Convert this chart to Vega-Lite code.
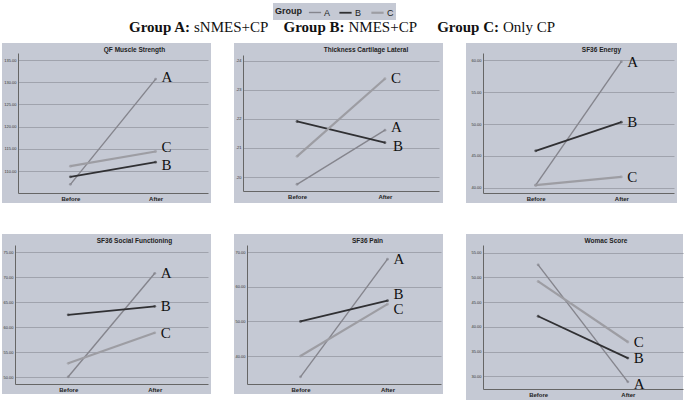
{
  "$schema": "https://vega.github.io/schema/vega-lite/v6.json",
  "padding": {"left": 2, "top": 0, "right": 0, "bottom": 0},
  "background": "white",
  "data": {"values": [
    {"p": "QF", "g": "A", "t": "Before", "v": 107.0},
    {"p": "QF", "g": "A", "t": "After", "v": 130.7},
    {"p": "QF", "g": "B", "t": "Before", "v": 108.7},
    {"p": "QF", "g": "B", "t": "After", "v": 112.0},
    {"p": "QF", "g": "C", "t": "Before", "v": 111.1},
    {"p": "QF", "g": "C", "t": "After", "v": 114.4},
    {"p": "TH", "g": "A", "t": "Before", "v": 0.1975},
    {"p": "TH", "g": "A", "t": "After", "v": 0.2161},
    {"p": "TH", "g": "B", "t": "Before", "v": 0.2191},
    {"p": "TH", "g": "B", "t": "After", "v": 0.2118},
    {"p": "TH", "g": "C", "t": "Before", "v": 0.2071},
    {"p": "TH", "g": "C", "t": "After", "v": 0.2338},
    {"p": "EN", "g": "A", "t": "Before", "v": 40.4},
    {"p": "EN", "g": "A", "t": "After", "v": 59.8},
    {"p": "EN", "g": "B", "t": "Before", "v": 45.8},
    {"p": "EN", "g": "B", "t": "After", "v": 50.3},
    {"p": "EN", "g": "C", "t": "Before", "v": 40.4},
    {"p": "EN", "g": "C", "t": "After", "v": 41.7},
    {"p": "SO", "g": "A", "t": "Before", "v": 50.1},
    {"p": "SO", "g": "A", "t": "After", "v": 70.8},
    {"p": "SO", "g": "B", "t": "Before", "v": 62.5},
    {"p": "SO", "g": "B", "t": "After", "v": 64.2},
    {"p": "SO", "g": "C", "t": "Before", "v": 52.8},
    {"p": "SO", "g": "C", "t": "After", "v": 58.9},
    {"p": "PA", "g": "A", "t": "Before", "v": 34.0},
    {"p": "PA", "g": "A", "t": "After", "v": 68.0},
    {"p": "PA", "g": "B", "t": "Before", "v": 50.0},
    {"p": "PA", "g": "B", "t": "After", "v": 56.0},
    {"p": "PA", "g": "C", "t": "Before", "v": 40.0},
    {"p": "PA", "g": "C", "t": "After", "v": 55.0},
    {"p": "WO", "g": "A", "t": "Before", "v": 52.55},
    {"p": "WO", "g": "A", "t": "After", "v": 28.9},
    {"p": "WO", "g": "B", "t": "Before", "v": 42.15},
    {"p": "WO", "g": "B", "t": "After", "v": 33.7},
    {"p": "WO", "g": "C", "t": "Before", "v": 49.2},
    {"p": "WO", "g": "C", "t": "After", "v": 36.95}
  ]},
  "vconcat": [
    {
      "width": 683, "height": 36,
      "data": {"values": [
        {"k": "A", "b": "Group A:", "n": "sNMES+CP"},
        {"k": "B", "b": "Group B:", "n": "NMES+CP"},
        {"k": "C", "b": "Group C:", "n": "Only CP"}
      ]},
      "view": {"stroke": null, "fill": null},
      "encoding": {"x": {"field": "k", "type": "nominal", "scale": {"type": "point", "range": [189, 498], "padding": 0}, "axis": null}},
      "layer": [
        {"mark": {"type": "text", "align": "right", "baseline": "alphabetic", "dx": -1, "dy": 14, "font": "Liberation Serif", "fontSize": 15, "fontWeight": "bold", "color": "#111"}, "encoding": {"text": {"field": "b"}}},
        {"mark": {"type": "text", "align": "left", "baseline": "alphabetic", "dx": 3, "dy": 14, "font": "Liberation Serif", "fontSize": 15, "color": "#111"}, "encoding": {"text": {"field": "n"}}}
      ]
    },
    {
      "vconcat": [
        {
          "hconcat": [
            {
              "width": 209, "height": 160,
              "view": {"fill": "#c5c9d4", "stroke": null},
              "title": {"text": "QF Muscle Strength", "dx": 28, "offset": -10},
              "transform": [{"filter": "datum.p == 'QF'"}],
              "encoding": {
                "x": {"field": "t", "type": "nominal", "sort": ["Before", "After"], "scale": {"type": "point", "range": [16, 206], "padding": 0.615}, "axis": {"title": null, "offset": -10, "labelAngle": 0}},
                "y": {"field": "v", "type": "quantitative", "scale": {"domain": [105.05, 136.58], "range": [150, 10], "nice": false, "zero": false}, "axis": {"title": null, "offset": -16, "values": [110, 115, 120, 125, 130, 135], "format": ".2f"}}
              },
              "layer": [
                {"mark": {"type": "line"}, "encoding": {
                  "color": {"field": "g", "type": "nominal", "scale": {"domain": ["A", "B", "C"], "range": ["#85858d", "#303033", "#9d9da3"]}, "legend": {"title": "Group", "orient": "none", "legendX": 271, "legendY": 3, "direction": "horizontal", "titleOrient": "left", "symbolType": "stroke", "symbolSize": 150, "columnPadding": 4}},
                  "strokeWidth": {"field": "g", "type": "nominal", "scale": {"domain": ["A", "B", "C"], "range": [1.4, 2.2, 1.4]}, "legend": {"title": "Group", "orient": "none", "legendX": 271, "legendY": 3, "direction": "horizontal", "titleOrient": "left", "symbolType": "stroke", "symbolSize": 150, "columnPadding": 4}}
                }},
                {"mark": {"type": "point", "filled": true, "size": 8}, "encoding": {"color": {"field": "g", "type": "nominal", "legend": null}}},
                {"transform": [{"filter": "datum.t == 'After'"}], "mark": {"type": "text", "align": "left", "baseline": "middle", "dx": 6, "dy": {"expr": "datum.g == 'C' ? -4 : datum.g == 'B' ? 3 : -2"}, "font": "Liberation Serif", "fontSize": 15, "color": "#111"}, "encoding": {"text": {"field": "g"}}}
              ]
            },
            {
              "width": 209, "height": 160,
              "view": {"fill": "#c5c9d4", "stroke": null},
              "title": {"text": "Thickness Cartilage Lateral", "dx": 27.5, "offset": -10},
              "transform": [{"filter": "datum.p == 'TH'"}],
              "encoding": {
                "x": {"field": "t", "type": "nominal", "sort": ["Before", "After"], "scale": {"type": "point", "range": [9, 205], "padding": 0.615}, "axis": {"title": null, "offset": -12, "labelAngle": 0}},
                "y": {"field": "v", "type": "quantitative", "scale": {"domain": [0.19519, 0.24196], "range": [148, 12], "nice": false, "zero": false}, "axis": {"title": null, "offset": -9, "values": [0.20, 0.21, 0.22, 0.23, 0.24], "labelExpr": "replace(format(datum.value, '.2f'), '0.', '.')"}}
              },
              "layer": [
                {"mark": {"type": "line"}, "encoding": {
                  "color": {"field": "g", "type": "nominal", "scale": {"domain": ["A", "B", "C"], "range": ["#85858d", "#303033", "#9d9da3"]}, "legend": {"title": "Group", "orient": "none", "legendX": 271, "legendY": 3, "direction": "horizontal", "titleOrient": "left", "symbolType": "stroke", "symbolSize": 150, "columnPadding": 4}},
                  "strokeWidth": {"field": "g", "type": "nominal", "scale": {"domain": ["A", "B", "C"], "range": [1.4, 2.2, 1.4]}, "legend": {"title": "Group", "orient": "none", "legendX": 271, "legendY": 3, "direction": "horizontal", "titleOrient": "left", "symbolType": "stroke", "symbolSize": 150, "columnPadding": 4}}
                }},
                {"mark": {"type": "point", "filled": true, "size": 8}, "encoding": {"color": {"field": "g", "type": "nominal", "legend": null}}},
                {"transform": [{"filter": "datum.t == 'After'"}], "mark": {"type": "text", "align": "left", "baseline": "middle", "dx": {"expr": "datum.g == 'B' ? 8 : 6"}, "dy": {"expr": "datum.g == 'A' ? -3 : datum.g == 'B' ? 3 : -1"}, "font": "Liberation Serif", "fontSize": 15, "color": "#111"}, "encoding": {"text": {"field": "g"}}}
              ]
            },
            {
              "width": 211, "height": 160,
              "view": {"fill": "#c5c9d4", "stroke": null},
              "title": {"text": "SF36 Energy", "dx": 30, "offset": -10},
              "transform": [{"filter": "datum.p == 'EN'"}],
              "encoding": {
                "x": {"field": "t", "type": "nominal", "sort": ["Before", "After"], "scale": {"type": "point", "range": [17, 208], "padding": 0.615}, "axis": {"title": null, "offset": -10, "labelAngle": 0}},
                "y": {"field": "v", "type": "quantitative", "scale": {"domain": [39.17, 61.16], "range": [150, 10], "nice": false, "zero": false}, "axis": {"title": null, "offset": -17, "values": [40, 45, 50, 55, 60], "format": ".2f"}}
              },
              "layer": [
                {"mark": {"type": "line"}, "encoding": {
                  "color": {"field": "g", "type": "nominal", "scale": {"domain": ["A", "B", "C"], "range": ["#85858d", "#303033", "#9d9da3"]}, "legend": {"title": "Group", "orient": "none", "legendX": 271, "legendY": 3, "direction": "horizontal", "titleOrient": "left", "symbolType": "stroke", "symbolSize": 150, "columnPadding": 4}},
                  "strokeWidth": {"field": "g", "type": "nominal", "scale": {"domain": ["A", "B", "C"], "range": [1.4, 2.2, 1.4]}, "legend": {"title": "Group", "orient": "none", "legendX": 271, "legendY": 3, "direction": "horizontal", "titleOrient": "left", "symbolType": "stroke", "symbolSize": 150, "columnPadding": 4}}
                }},
                {"mark": {"type": "point", "filled": true, "size": 8}, "encoding": {"color": {"field": "g", "type": "nominal", "legend": null}}},
                {"transform": [{"filter": "datum.t == 'After'"}], "mark": {"type": "text", "align": "left", "baseline": "middle", "dx": 6, "font": "Liberation Serif", "fontSize": 15, "color": "#111"}, "encoding": {"text": {"field": "g"}}}
              ]
            }
          ],
          "spacing": 23
        },
        {
          "hconcat": [
            {
              "width": 209, "height": 160,
              "view": {"fill": "#c5c9d4", "stroke": null},
              "title": {"text": "SF36 Social Functioning", "dx": 28, "offset": -10},
              "transform": [{"filter": "datum.p == 'SO'"}],
              "encoding": {
                "x": {"field": "t", "type": "nominal", "sort": ["Before", "After"], "scale": {"type": "point", "range": [13, 206], "padding": 0.615}, "axis": {"title": null, "offset": -10, "labelAngle": 0}},
                "y": {"field": "v", "type": "quantitative", "scale": {"domain": [48.66, 76.46], "range": [150, 11], "nice": false, "zero": false}, "axis": {"title": null, "offset": -13, "values": [50, 55, 60, 65, 70, 75], "format": ".2f"}}
              },
              "layer": [
                {"mark": {"type": "line"}, "encoding": {
                  "color": {"field": "g", "type": "nominal", "scale": {"domain": ["A", "B", "C"], "range": ["#85858d", "#303033", "#9d9da3"]}, "legend": {"title": "Group", "orient": "none", "legendX": 271, "legendY": 3, "direction": "horizontal", "titleOrient": "left", "symbolType": "stroke", "symbolSize": 150, "columnPadding": 4}},
                  "strokeWidth": {"field": "g", "type": "nominal", "scale": {"domain": ["A", "B", "C"], "range": [1.4, 2.2, 1.4]}, "legend": {"title": "Group", "orient": "none", "legendX": 271, "legendY": 3, "direction": "horizontal", "titleOrient": "left", "symbolType": "stroke", "symbolSize": 150, "columnPadding": 4}}
                }},
                {"mark": {"type": "point", "filled": true, "size": 8}, "encoding": {"color": {"field": "g", "type": "nominal", "legend": null}}},
                {"transform": [{"filter": "datum.t == 'After'"}], "mark": {"type": "text", "align": "left", "baseline": "middle", "dx": 6, "font": "Liberation Serif", "fontSize": 15, "color": "#111"}, "encoding": {"text": {"field": "g"}}}
              ]
            },
            {
              "width": 209, "height": 160,
              "view": {"fill": "#c5c9d4", "stroke": null},
              "title": {"text": "SF36 Pain", "dx": 29, "offset": -10},
              "transform": [{"filter": "datum.p == 'PA'"}],
              "encoding": {
                "x": {"field": "t", "type": "nominal", "sort": ["Before", "After"], "scale": {"type": "point", "range": [13, 207], "padding": 0.615}, "axis": {"title": null, "offset": -10, "labelAngle": 0}},
                "y": {"field": "v", "type": "quantitative", "scale": {"domain": [31.92, 72.1], "range": [150, 11], "nice": false, "zero": false}, "axis": {"title": null, "offset": -13, "values": [40, 50, 60, 70], "format": ".2f"}}
              },
              "layer": [
                {"mark": {"type": "line"}, "encoding": {
                  "color": {"field": "g", "type": "nominal", "scale": {"domain": ["A", "B", "C"], "range": ["#85858d", "#303033", "#9d9da3"]}, "legend": {"title": "Group", "orient": "none", "legendX": 271, "legendY": 3, "direction": "horizontal", "titleOrient": "left", "symbolType": "stroke", "symbolSize": 150, "columnPadding": 4}},
                  "strokeWidth": {"field": "g", "type": "nominal", "scale": {"domain": ["A", "B", "C"], "range": [1.4, 2.2, 1.4]}, "legend": {"title": "Group", "orient": "none", "legendX": 271, "legendY": 3, "direction": "horizontal", "titleOrient": "left", "symbolType": "stroke", "symbolSize": 150, "columnPadding": 4}}
                }},
                {"mark": {"type": "point", "filled": true, "size": 8}, "encoding": {"color": {"field": "g", "type": "nominal", "legend": null}}},
                {"transform": [{"filter": "datum.t == 'After'"}], "mark": {"type": "text", "align": "left", "baseline": {"expr": "datum.g == 'B' ? 'alphabetic' : datum.g == 'C' ? 'top' : 'middle'"}, "dx": 6, "dy": {"expr": "datum.g == 'C' ? -2 : datum.g == 'B' ? -2 : 0"}, "font": "Liberation Serif", "fontSize": 15, "color": "#111"}, "encoding": {"text": {"field": "g"}}}
              ]
            },
            {
              "width": 217, "height": 166,
              "view": {"fill": "#c5c9d4", "stroke": null},
              "title": {"text": "Womac Score", "dx": 31.5, "offset": -10},
              "transform": [{"filter": "datum.p == 'WO'"}],
              "encoding": {
                "x": {"field": "t", "type": "nominal", "sort": ["Before", "After"], "scale": {"type": "point", "range": [17, 217], "padding": 0.615}, "axis": {"title": null, "offset": -11, "labelAngle": 0}},
                "y": {"field": "v", "type": "quantitative", "scale": {"domain": [27.46, 56.55], "range": [155, 11], "nice": false, "zero": false}, "axis": {"title": null, "offset": -17, "values": [30, 35, 40, 45, 50, 55], "format": ".2f"}}
              },
              "layer": [
                {"mark": {"type": "line"}, "encoding": {
                  "color": {"field": "g", "type": "nominal", "scale": {"domain": ["A", "B", "C"], "range": ["#85858d", "#303033", "#9d9da3"]}, "legend": {"title": "Group", "orient": "none", "legendX": 271, "legendY": 3, "direction": "horizontal", "titleOrient": "left", "symbolType": "stroke", "symbolSize": 150, "columnPadding": 4}},
                  "strokeWidth": {"field": "g", "type": "nominal", "scale": {"domain": ["A", "B", "C"], "range": [1.4, 2.2, 1.4]}, "legend": {"title": "Group", "orient": "none", "legendX": 271, "legendY": 3, "direction": "horizontal", "titleOrient": "left", "symbolType": "stroke", "symbolSize": 150, "columnPadding": 4}}
                }},
                {"mark": {"type": "point", "filled": true, "size": 8}, "encoding": {"color": {"field": "g", "type": "nominal", "legend": null}}},
                {"transform": [{"filter": "datum.t == 'After'"}], "mark": {"type": "text", "align": "left", "baseline": "middle", "dx": 6, "dy": {"expr": "datum.g == 'A' ? 2 : 0"}, "font": "Liberation Serif", "fontSize": 15, "color": "#111"}, "encoding": {"text": {"field": "g"}}}
              ]
            }
          ],
          "spacing": 23
        }
      ],
      "spacing": 31
    }
  ],
  "spacing": 7,
  "config": {
    "view": {"stroke": null},
    "title": {"font": "Liberation Sans", "fontSize": 6.5, "fontWeight": "bold", "color": "#222", "anchor": "middle"},
    "axis": {"labelFont": "Liberation Sans", "domainColor": "#666", "domainWidth": 1, "ticks": false},
    "axisX": {"grid": false, "labelFontSize": 6, "labelFontWeight": "bold", "labelColor": "#222", "labelPadding": 2},
    "axisY": {"grid": true, "gridColor": "#a0a3ad", "gridWidth": 1, "gridOpacity": 1, "labelFontSize": 4, "labelColor": "#333", "labelPadding": 2},
    "legend": {"fillColor": "#c5c9d4", "padding": 2, "labelFont": "Liberation Sans", "labelFontSize": 9, "labelColor": "#222", "labelBaseline": "middle", "titleFont": "Liberation Sans", "titleFontSize": 9, "titleFontWeight": "bold", "titleColor": "#222", "titleBaseline": "middle", "columnPadding": 4, "labelOffset": 2, "titlePadding": 6}
  }
}
